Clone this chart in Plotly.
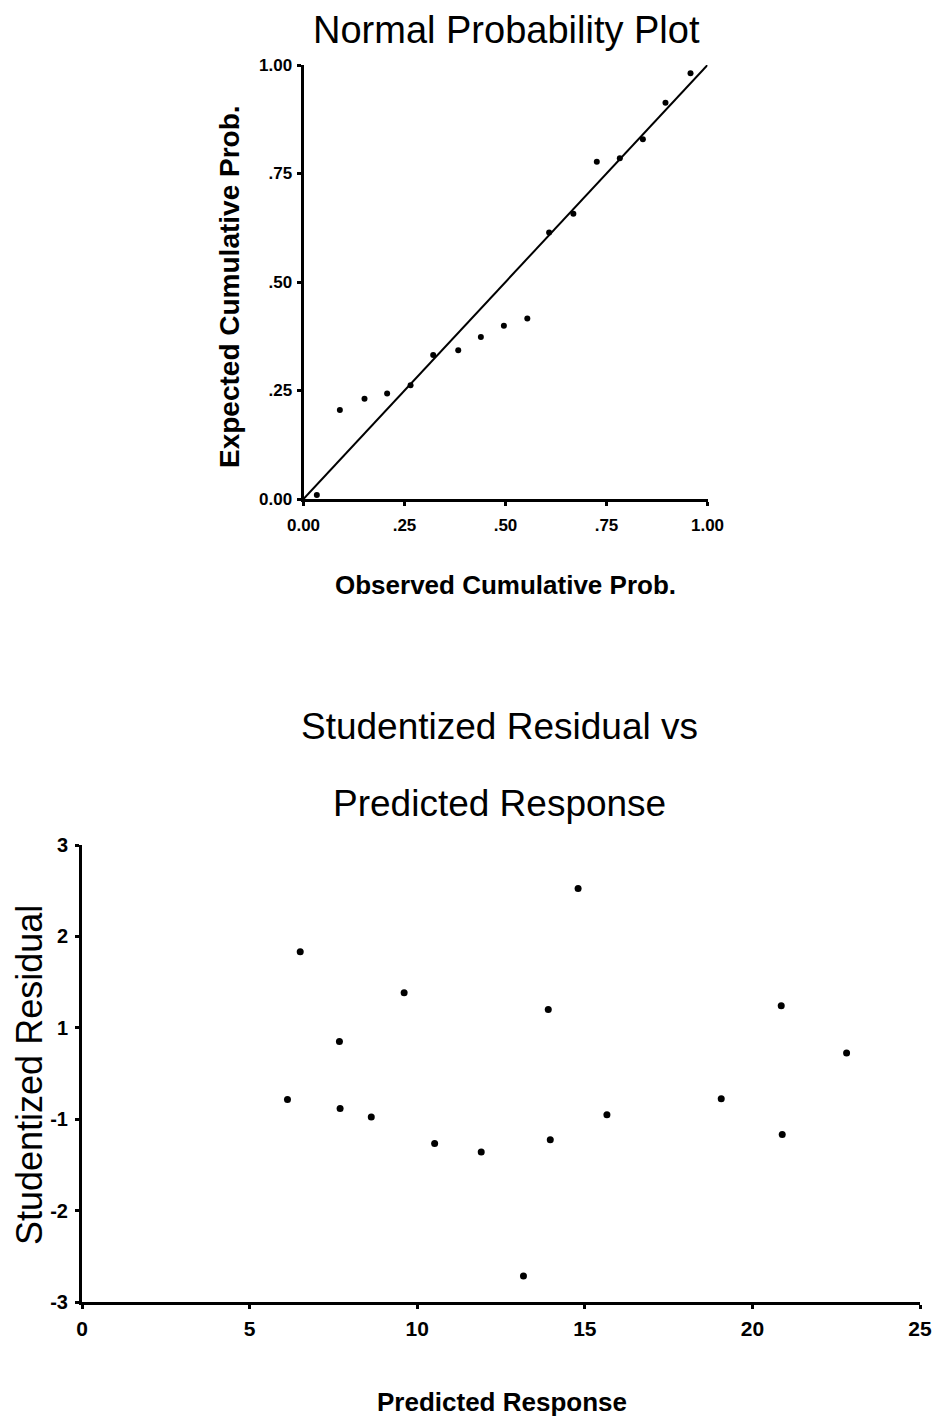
import plotly.graph_objects as go

# ---------------- data ----------------
# Normal probability plot
obs_cum_prob = [0.033, 0.090, 0.151, 0.207, 0.265, 0.321, 0.383, 0.439, 0.496, 0.554,
                0.608, 0.668, 0.726, 0.783, 0.840, 0.896, 0.958]
exp_cum_prob = [0.009, 0.205, 0.231, 0.243, 0.262, 0.332, 0.343, 0.373, 0.399, 0.416,
                0.614, 0.657, 0.777, 0.785, 0.829, 0.913, 0.981]
ref_line = [0.0, 1.0]
prob_tickvals = [0.0, 0.25, 0.5, 0.75, 1.0]
prob_ticktext = ["0.00", ".25", ".50", ".75", "1.00"]

# Studentized residual vs predicted response
predicted = [6.13, 6.51, 7.68, 7.70, 8.63, 9.61, 10.52, 11.91, 13.17, 13.91,
             13.97, 14.80, 15.66, 19.07, 20.86, 20.89, 22.81]
stud_resid = [-0.34, 1.60, 0.42, -0.46, -0.57, 1.06, -0.92, -1.03, -2.66, 0.84,
              -0.87, 2.43, -0.54, -0.33, 0.89, -0.80, 0.27]
pred_tickvals = [0, 5, 10, 15, 20, 25]
resid_tickvals = [-3, -1.8, -0.6, 0.6, 1.8, 3]
resid_ticktext = ["-3", "-2", "-1", "1", "2", "3"]

# ---------------- layout helpers ----------------
W, H = 932, 1420
def px(x):
    return x / W
def py(y):
    return 1 - y / H

REG = "Liberation Sans, Arial, sans-serif"

fig = go.Figure()

fig.add_trace(go.Scatter(x=ref_line, y=ref_line, mode="lines",
                         line=dict(color="black", width=2),
                         xaxis="x", yaxis="y", showlegend=False, hoverinfo="skip"))
fig.add_trace(go.Scatter(x=obs_cum_prob, y=exp_cum_prob, mode="markers",
                         marker=dict(color="black", size=6),
                         xaxis="x", yaxis="y", showlegend=False, cliponaxis=False))
fig.add_trace(go.Scatter(x=predicted, y=stud_resid, mode="markers",
                         marker=dict(color="black", size=7),
                         xaxis="x2", yaxis="y2", showlegend=False, cliponaxis=False))

axis_common = dict(showgrid=False, zeroline=False, showline=True, linecolor="black",
                   linewidth=3, ticks="outside", ticklen=4, tickwidth=3, tickcolor="black",
                   fixedrange=True, automargin=False)

fig.update_layout(
    width=W, height=H,
    autosize=False,
    margin=dict(l=0, r=0, t=0, b=0, pad=0, autoexpand=False),
    showlegend=False,
    paper_bgcolor="white", plot_bgcolor="white",
    xaxis=dict(domain=[px(303.5), px(707.5)], range=[0, 1], anchor="y",
               tickvals=prob_tickvals, ticktext=prob_ticktext,
               tickfont=dict(family=REG, size=17, color="black", weight="bold"),
               ticklabelstandoff=5, **axis_common),
    yaxis=dict(domain=[py(499), py(65)], range=[0, 1], anchor="x",
               tickvals=prob_tickvals, ticktext=prob_ticktext,
               tickfont=dict(family=REG, size=17, color="black", weight="bold"),
               ticklabelstandoff=1, **axis_common),
    xaxis2=dict(domain=[px(82), px(920)], range=[0, 25], anchor="y2",
                tickvals=pred_tickvals,
                tickfont=dict(family=REG, size=21, color="black", weight="bold"),
                ticklabelstandoff=2, ticklabeloverflow="allow", **axis_common),
    yaxis2=dict(domain=[py(1302), py(845)], range=[-3, 3], anchor="x2",
                tickvals=resid_tickvals, ticktext=resid_ticktext,
                tickfont=dict(family=REG, size=20, color="black", weight="bold"),
                ticklabelstandoff=3, **axis_common),
)

def label(text, x, y, size, bold=False, angle=0):
    fig.add_annotation(text=text, x=px(x), y=py(y), xref="paper", yref="paper",
                       xanchor="center", yanchor="middle", showarrow=False, textangle=angle,
                       font=dict(family=REG, size=size, color="black",
                                 weight="bold" if bold else "normal"))

label("Normal Probability Plot", 507, 30, 38)
label("Observed Cumulative Prob.", 505, 585, 26, bold=True)
label("Expected Cumulative Prob.", 229, 287, 28, bold=True, angle=-90)
label("Studentized Residual vs", 499, 726, 37)
label("Predicted Response", 499, 803, 37)
label("Predicted Response", 502, 1402, 26, bold=True)
label("Studentized Residual", 29, 1075, 36, angle=-90)

fig.write_html("out.html",
               config={"displayModeBar": False, "staticPlot": True},
               post_script="document.body.style.margin='0';document.body.style.overflow='hidden';")
